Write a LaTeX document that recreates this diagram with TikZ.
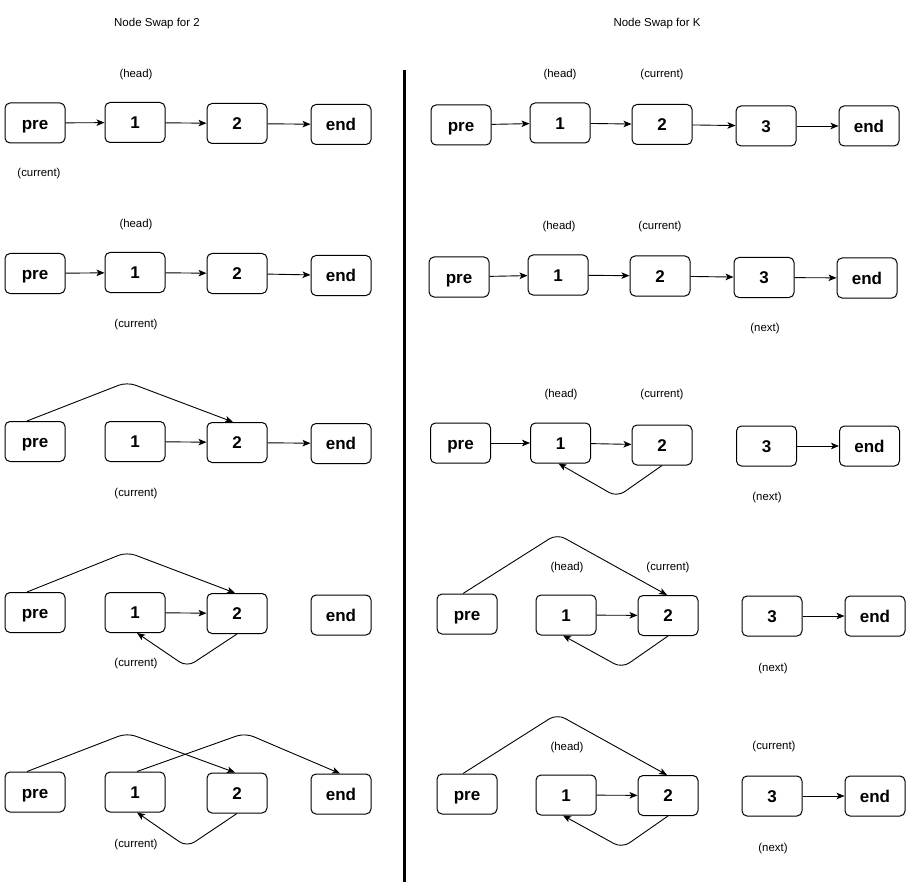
\documentclass[tikz,border=0pt]{standalone}
\usepackage{fontspec}
\setmainfont{Liberation Sans}
\usetikzlibrary{arrows.meta}
\begin{document}
\begin{tikzpicture}[x=1pt,y=-1pt,
  box/.style={draw, rounded corners=5pt, line width=1pt, minimum width=60pt, minimum height=40pt,
    inner sep=0pt, text height=12.2pt, text depth=0pt, font=\fontsize{17}{20}\selectfont\bfseries},
  lbl/.style={font=\fontsize{11.4}{13}\selectfont, inner sep=0pt, yshift=-1.5pt},
  ttl/.style={font=\fontsize{11.5}{14}\selectfont, inner sep=0pt, yshift=-1pt},
  link/.style={line width=0.9pt, -{Stealth[length=8pt,width=6.5pt,inset=2pt]}},
  hop/.style={link, rounded corners=9pt}]
\useasboundingbox (0,0) rectangle (907,885);
\fill[white] (0,0) rectangle (907,885);

% titles and divider
\node[ttl] (t2) at (157,23) {Node Swap for 2};
\node[ttl] (tk) at (657,23) {Node Swap for K};
\coordinate (d1) at (404,70);
\coordinate (d2) at (404,882);
\draw[line width=3pt] (d1) -- (d2);

% ---------- swap for 2 ----------
% step 1
\node[box] (a1p) at (35,123) {pre};
\node[box] (a11) at (135,122.5) {1};
\node[box] (a12) at (237,123.5) {2};
\node[box] (a1e) at (341,124.5) {end};
\draw[link] (a1p) -- (a11);
\draw[link] (a11) -- (a12);
\draw[link] (a12) -- (a1e);
\node[lbl] (a1h) at (136,73) {(head)};
\node[lbl] (a1c) at (39,172) {(current)};

% step 2
\node[box] (a2p) at (35,273.5) {pre};
\node[box] (a21) at (135,272.5) {1};
\node[box] (a22) at (237,273.5) {2};
\node[box] (a2e) at (341,275.5) {end};
\draw[link] (a2p) -- (a21);
\draw[link] (a21) -- (a22);
\draw[link] (a22) -- (a2e);
\node[lbl] (a2h) at (136,223) {(head)};
\node[lbl] (a2c) at (136,323) {(current)};

% step 3
\node[box] (a3p) at (35,441.5) {pre};
\node[box] (a31) at (135,441.5) {1};
\node[box] (a32) at (237,442.5) {2};
\node[box] (a3e) at (341,443.5) {end};
\coordinate (a3k) at (127,382);
\draw[hop] ([xshift=-8pt]a3p.north) -- (a3k) -- ([xshift=-4pt]a32.north);
\draw[link] (a31) -- (a32);
\draw[link] (a32) -- (a3e);
\node[lbl] (a3c) at (136,492) {(current)};

% step 4
\node[box] (a4p) at (35,612.5) {pre};
\node[box] (a41) at (135,612.5) {1};
\node[box] (a42) at (237,613.5) {2};
\node[box] (a4e) at (341,615) {end};
\coordinate (a4k) at (127,552);
\coordinate (a4b) at (187,667);
\draw[hop] ([xshift=-8pt]a4p.north) -- (a4k) -- ([xshift=-2pt]a42.north);
\draw[link] (a41) -- (a42);
\draw[hop] (a42.south) -- (a4b) -- ([xshift=2pt]a41.south);
\node[lbl] (a4c) at (136,662) {(current)};

% step 5
\node[box] (a5p) at (35,792) {pre};
\node[box] (a51) at (135,792) {1};
\node[box] (a52) at (237,793) {2};
\node[box] (a5e) at (341,794) {end};
\coordinate (a5k) at (127,733);
\coordinate (a5m) at (245,733);
\coordinate (a5b) at (187,847);
\draw[hop] ([xshift=-8pt]a5p.north) -- (a5k) -- ([xshift=-2pt]a52.north);
\draw[hop] ([xshift=2pt]a51.north) -- (a5m) -- ([xshift=-1pt]a5e.north);
\draw[hop] (a52.south) -- (a5b) -- ([xshift=2pt]a51.south);
\node[lbl] (a5c) at (136,843) {(current)};

% ---------- swap for K ----------
% step 1
\node[box] (b1p) at (461,125) {pre};
\node[box] (b11) at (560,123) {1};
\node[box] (b12) at (662,124.5) {2};
\node[box] (b13) at (766,126) {3};
\node[box] (b1e) at (869,126) {end};
\draw[link] (b1p) -- (b11);
\draw[link] (b11) -- (b12);
\draw[link] (b12) -- (b13);
\draw[link] (b13) -- (b1e);
\node[lbl] (b1h) at (560,73) {(head)};
\node[lbl] (b1c) at (662,73) {(current)};

% step 2
\node[box] (b2p) at (459,277) {pre};
\node[box] (b21) at (558,275) {1};
\node[box] (b22) at (660,276) {2};
\node[box] (b23) at (764,277.5) {3};
\node[box] (b2e) at (867,278) {end};
\draw[link] (b2p) -- (b21);
\draw[link] (b21) -- (b22);
\draw[link] (b22) -- (b23);
\draw[link] (b23) -- (b2e);
\node[lbl] (b2h) at (559,225) {(head)};
\node[lbl] (b2c) at (660,225) {(current)};
\node[lbl] (b2n) at (765,327) {(next)};

% step 3
\node[box] (b3p) at (460.5,443) {pre};
\node[box] (b31) at (560.5,443) {1};
\node[box] (b32) at (662,445) {2};
\node[box] (b33) at (766.5,446) {3};
\node[box] (b3e) at (869.5,446) {end};
\coordinate (b3b) at (617,497);
\draw[link] (b3p) -- (b31);
\draw[link] (b31) -- (b32);
\draw[link] (b33) -- (b3e);
\draw[hop] (b32.south) -- (b3b) -- ([xshift=-2pt]b31.south);
\node[lbl] (b3h) at (561,393) {(head)};
\node[lbl] (b3c) at (662,393) {(current)};
\node[lbl] (b3n) at (767,496) {(next)};

% step 4
\node[box] (b4p) at (467,614) {pre};
\node[box] (b41) at (566,615) {1};
\node[box] (b42) at (668,615.5) {2};
\node[box] (b43) at (772,616) {3};
\node[box] (b4e) at (875,616) {end};
\coordinate (b4k) at (557,534);
\coordinate (b4b) at (622,668);
\draw[hop] ([xshift=-4pt]b4p.north) -- (b4k) -- ([xshift=-1pt]b42.north);
\draw[link] (b41) -- (b42);
\draw[link] (b43) -- (b4e);
\draw[hop] (b42.south) -- (b4b) -- ([xshift=-3pt]b41.south);
\node[lbl] (b4h) at (567,566) {(head)};
\node[lbl] (b4c) at (668,566) {(current)};
\node[lbl] (b4n) at (773,667) {(next)};

% step 5
\node[box] (b5p) at (467,794) {pre};
\node[box] (b51) at (566,795) {1};
\node[box] (b52) at (668,795.5) {2};
\node[box] (b53) at (772,796) {3};
\node[box] (b5e) at (875,796) {end};
\coordinate (b5k) at (557,714);
\coordinate (b5b) at (622,848);
\draw[hop] ([xshift=-4pt]b5p.north) -- (b5k) -- ([xshift=-1pt]b52.north);
\draw[link] (b51) -- (b52);
\draw[link] (b53) -- (b5e);
\draw[hop] (b52.south) -- (b5b) -- ([xshift=-3pt]b51.south);
\node[lbl] (b5h) at (567,746) {(head)};
\node[lbl] (b5c) at (774,745) {(current)};
\node[lbl] (b5n) at (773,847) {(next)};
\end{tikzpicture}
\end{document}
